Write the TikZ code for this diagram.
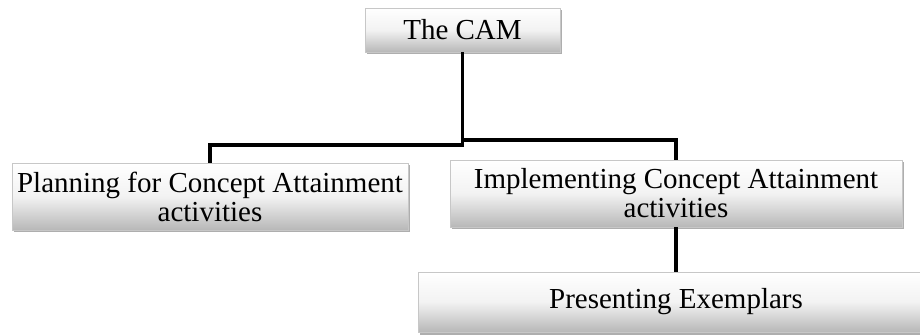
\documentclass[tikz,border=0pt]{standalone}
\usepackage{fontspec}
\setmainfont{Liberation Serif}
\usetikzlibrary{shadows}
\begin{document}
\begin{tikzpicture}[x=1pt,y=-1pt,
  box/.style={draw=black!22, line width=0.6pt, top color=white, bottom color=black!28,
    middle color=black!5, shading angle=0,
    drop shadow={shadow xshift=1.5pt, shadow yshift=-2.5pt, opacity=0.45, fill=black!70},
    inner sep=0pt, align=center, font=\fontsize{29}{29}\selectfont},
  conn/.style={line width=3.6pt, black}]
\useasboundingbox (0,0) rectangle (920,336);
\clip (0,0) rectangle (920,336);

% boxes (centre, width and height)
\node[box, minimum width=195pt, minimum height=44pt] (cam) at (462.5,30) {The CAM};
\node[box, minimum width=396pt, minimum height=67pt] (plan) at (210,196.5)
  {Planning for Concept Attainment\\activities};
\node[box, minimum width=452pt, minimum height=67pt] (impl) at (676,193.5)
  {Implementing Concept Attainment\\activities};
\node[box, minimum width=516pt, minimum height=60pt] (pres) at (676,302)
  {Presenting Exemplars};

% junction levels of the tree
\coordinate (jl) at (0,145);
\coordinate (jr) at (0,140);

\draw[conn] (cam.south) -- (cam.south |- jl) -| (plan.north);
\draw[conn] (cam.south |- jr) -| (impl.north);
\draw[conn] (impl.south) -- (impl.south |- pres.north);
\end{tikzpicture}
\end{document}
